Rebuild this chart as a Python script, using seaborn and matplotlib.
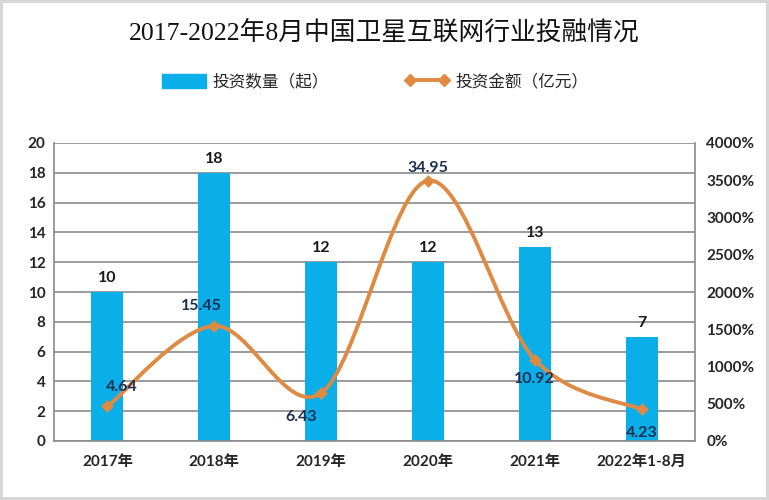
import matplotlib
matplotlib.use("Agg")
import matplotlib.pyplot as plt
import seaborn as sns
import numpy as np
import pandas as pd
from matplotlib.path import Path
from matplotlib.patches import PathPatch, Patch
from matplotlib.lines import Line2D
from matplotlib.ticker import FuncFormatter

years = ["2017年", "2018年", "2019年", "2020年", "2021年", "2022年1-8月"]
counts = [10, 18, 12, 12, 13, 7]
amounts = [4.64, 15.45, 6.43, 34.95, 10.92, 4.23]
title = "2017-2022年8月中国卫星互联网行业投融情况"
bar_label = "投资数量（起）"
line_label = "投资金额（亿元）"

sns.set_style("white")
plt.rcParams["font.family"] = ["Lato", "Noto Sans CJK SC", "DejaVu Sans"]

BAR = "#0AAEE8"
LINE = "#DF8A43"
GRID = "#8a8a8a"

fig = plt.figure(figsize=(7.69, 5.0), dpi=100)
fig.patch.set_facecolor("white")
fig.patch.set_edgecolor("#d6d6d6")
fig.patch.set_linewidth(3)
ax = fig.add_axes([0.0702, 0.118, 0.8336, 0.596])

df = pd.DataFrame({"year": years, "count": counts, "amount": amounts})
sns.barplot(data=df, x="year", y="count", color=BAR, width=0.3, ax=ax,
            saturation=1, zorder=2, linewidth=0, edgecolor=BAR)
ax.set_xlim(-0.5, 5.5)
ax.set_ylim(0, 20)
ax.set_yticks(range(0, 21, 2))
ax.set_xlabel("")
ax.set_ylabel("")
ax.yaxis.grid(True, color=GRID, linewidth=1.2, zorder=0)
ax.set_axisbelow(True)
for s in ["left", "right", "bottom"]:
    ax.spines[s].set_color(GRID)
    ax.spines[s].set_linewidth(1.2)
ax.spines["top"].set_visible(False)
ax.tick_params(axis="both", length=0, labelsize=11, pad=6)
for t in ax.get_xticklabels() + ax.get_yticklabels():
    t.set_fontweight("bold")
ax.tick_params(axis="x", pad=10)

for i, c in enumerate(counts):
    ax.annotate(str(c), (i, c), xytext=(0, 5), textcoords="offset points",
                ha="center", va="bottom", fontsize=11.5, fontweight="bold",
                color="#1a1a1a")

ax2 = ax.twinx()
ax2.set_ylim(0, 40)
ax2.set_yticks(range(0, 41, 5))
ax2.yaxis.set_major_formatter(FuncFormatter(lambda v, p: f"{int(round(v*100))}%"))
ax2.tick_params(axis="y", length=0, labelsize=11, pad=8)
for t in ax2.get_yticklabels():
    t.set_fontweight("bold")
for s in ax2.spines.values():
    s.set_visible(False)

# smooth curve (Catmull-Rom style Bezier as in Excel smoothed lines)
xs = np.arange(len(amounts), dtype=float)
ys = np.array(amounts, dtype=float)
pts = np.column_stack([xs, ys])
verts = [tuple(pts[0])]
codes = [Path.MOVETO]
n = len(pts)
for i in range(n - 1):
    p0 = pts[i - 1] if i > 0 else pts[i]
    p1 = pts[i]
    p2 = pts[i + 1]
    p3 = pts[i + 2] if i + 2 < n else pts[i + 1]
    c1 = p1 + (p2 - p0) / 6
    c2 = p2 - (p3 - p1) / 6
    verts += [tuple(c1), tuple(c2), tuple(p2)]
    codes += [Path.CURVE4] * 3
ax2.add_patch(PathPatch(Path(verts, codes), facecolor="none", edgecolor=LINE,
                        linewidth=2.8, zorder=3))
sns.scatterplot(data=df, x=np.arange(len(amounts)), y="amount", ax=ax2,
                marker="D", s=36, color=LINE, edgecolor=LINE, zorder=4,
                legend=False)
ax2.set_ylabel("")
ax2.set_xlim(-0.5, 5.5)

offsets = [(10, 14), (-9, 14), (-14, -17), (0, 9), (0, -14), (0, -17)]
for i, a in enumerate(amounts):
    dx, dy = offsets[i]
    ax2.annotate(f"{a:.2f}", (i, a), xytext=(dx, dy), textcoords="offset points",
                 ha="center", va="center", fontsize=11.5, fontweight="bold",
                 color="#1d2f50")

fig.text(0.5, 0.935, title, ha="center", va="center", fontsize=18.5,
         family=["Liberation Serif", "Noto Sans CJK SC"], color="#111111")

handles = [Patch(facecolor=BAR, edgecolor=BAR),
           Line2D([0], [0], color=LINE, lw=2.8, marker="D", markersize=6)]
leg = fig.legend(handles, [bar_label, line_label], loc="center",
                 bbox_to_anchor=(0.488, 0.836), ncol=2, frameon=False,
                 fontsize=12, handlelength=2.6, handleheight=0.9,
                 columnspacing=4.6, handletextpad=0.4, numpoints=2)
for t in leg.get_texts():
    t.set_family(["Noto Sans CJK SC", "DejaVu Sans"])

fig.savefig("out.png", dpi=100)
